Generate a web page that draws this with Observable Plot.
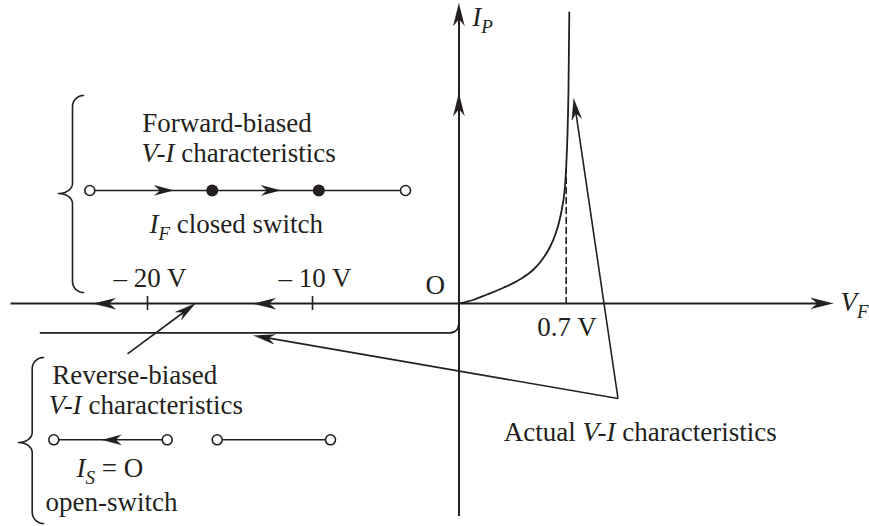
<!DOCTYPE html>
<html>
<head>
<meta charset="utf-8">
<script src="https://cdn.jsdelivr.net/npm/d3@7"></script>
<script src="https://cdn.jsdelivr.net/npm/@observablehq/plot@0.6"></script>
<style>
  html, body { margin: 0; padding: 0; background: #fff; }
  #chart { width: 869px; height: 526px; }
</style>
</head>
<body>
<div id="chart"></div>
<script>
// Diagram units: origin at the point O, 1 unit ≈ 1 screen pixel, v up.
const ink = "#231f20";

// Axes
const vfAxisSpan = [-448, 366];          // horizontal V_F axis (reverse to forward)
const ipAxisSpan = [-213, 292];          // vertical I_P axis
const reverseVoltTicks = [-311.5, -146.5];

// Forward characteristic (knee at 0.7 V)
const forwardCurve = [[0, 0], [14, 3.5], [28, 9], [45, 16], [61.5, 24.5], [74, 33.5], [84, 45],
  [91, 56.5], [96, 68], [100, 81], [103, 95], [105.5, 112], [107.2, 136], [108.5, 170], [109.5, 215], [110.3, 291]];
const kneeMarker = [[107.2, 0], [107.2, 134]];

// Actual reverse characteristic (small leakage below the axis)
const reverseTrace = [[-418.5, -29.3], [-9, -29.3], [-4.5, -28.1], [-1.2, -24.8], [0, -20.3]];

// Arrowheads on the axes: tip and direction
const axisArrows = [
  {tip: [374, 0], dir: [1, 0]},
  {tip: [0, 300], dir: [0, 1]},
  {tip: [0, 210], dir: [0, 1]},
  {tip: [-365.5, 0], dir: [-1, 0]},
  {tip: [-205.5, 0], dir: [-1, 0]}
];

// Pointer lines with arrowheads
const pointers = [
  {from: [159, -95], to: [114.8, 205]},
  {from: [159, -95], to: [-205.2, -32]},
  {from: [-331.5, -50.3], to: [-263.5, 0]}
];

// Switch analogies
const closedSwitchLine = [{from: [-369.2, 113], to: [-53.5, 113]}];
const closedSwitchArrows = [{tip: [-285.5, 113], dir: [1, 0]}, {tip: [-178.5, 113], dir: [1, 0]}];
const closedContacts = [[-246.8, 113], [-140.2, 113]];
const openSwitchLines = [{from: [-405.2, -136.3], to: [-291.8, -136.3]}, {from: [-241.8, -136.3], to: [-128.5, -136.3]}];
const openSwitchArrows = [{tip: [-356.8, -136.3], dir: [-1, 0]}];
const terminals = [[-369.2, 113], [-53.5, 113], [-405.2, -136.3], [-291.8, -136.3], [-241.8, -136.3], [-128.5, -136.3]];

// Curly braces grouping the annotations
const braces = [
  {xEnd: -375.5, xBody: -386.5, xTip: -400.5, top: 208, mid: 110, bottom: 11},
  {xEnd: -415.5, xBody: -426.8, xTip: -440.5, top: -54, mid: -139, bottom: -220}
];

// Labels (*italic*, _subscript_), anchored at start / baseline
const labels = [
  {text: "Forward-biased", u: -316.8, v: 171.3},
  {text: "*V-I* characteristics", u: -317.5, v: 141.3},
  {text: "*I*_F_ closed switch", u: -309.5, v: 71},
  {text: "– 20 V", u: -345.5, v: 16.5},
  {text: "– 10 V", u: -180.5, v: 16.5},
  {text: "O", u: -33.5, v: 10},
  {text: "0.7 V", u: 78.2, v: -32},
  {text: "*I*_P_", u: 13.2, v: 278},
  {text: "*V*_F_", u: 381.5, v: -7},
  {text: "Reverse-biased", u: -406.8, v: -80},
  {text: "*V-I* characteristics", u: -410.2, v: -110},
  {text: "*I*_S_ = O", u: -382.5, v: -173},
  {text: "open-switch", u: -413.5, v: -207},
  {text: "Actual *V-I* characteristics", u: 44.8, v: -137}
];

// ---- geometry helpers ----
function head(tip, dir, L, W, id) {
  const n = Math.hypot(dir[0], dir[1]);
  const dx = dir[0] / n, dy = dir[1] / n;
  const px = -dy, py = dx;
  const notch = L * 0.3;
  return [
    [tip[0], tip[1]],
    [tip[0] - dx * L + px * W, tip[1] - dy * L + py * W],
    [tip[0] - dx * (L - notch), tip[1] - dy * (L - notch)],
    [tip[0] - dx * L - px * W, tip[1] - dy * L - py * W]
  ].map(([x, y]) => ({id, x, y}));
}
function bracePoints(b, id) {
  const {xEnd, xBody, xTip, top, mid, bottom} = b;
  const r1 = xEnd - xBody, rx2 = xBody - xTip, ry2 = 10, N = 10;
  const pts = [];
  for (let i = 0; i <= N; i++) { const a = Math.PI / 2 + i / N * Math.PI / 2; pts.push([xEnd + r1 * Math.cos(a), top - r1 + r1 * Math.sin(a)]); }
  for (let i = 0; i <= N; i++) { const a = -i / N * Math.PI / 2; pts.push([xTip + rx2 * Math.cos(a), mid + ry2 + ry2 * Math.sin(a)]); }
  for (let i = 0; i <= N; i++) { const a = Math.PI / 2 - i / N * Math.PI / 2; pts.push([xTip + rx2 * Math.cos(a), mid - ry2 + ry2 * Math.sin(a)]); }
  for (let i = 0; i <= N; i++) { const a = Math.PI + i / N * Math.PI / 2; pts.push([xEnd + r1 * Math.cos(a), bottom + r1 + r1 * Math.sin(a)]); }
  return pts.map(([x, y]) => ({id, x, y}));
}

const heads = [
  ...axisArrows.flatMap((a, i) => head(a.tip, a.dir, 22, 5.5, "ax" + i)),
  ...pointers.flatMap((p, i) => head(p.to, [p.to[0] - p.from[0], p.to[1] - p.from[1]], 21, 5, "pt" + i)),
  ...closedSwitchArrows.flatMap((a, i) => head(a.tip, a.dir, 19, 5, "cs" + i)),
  ...openSwitchArrows.flatMap((a, i) => head(a.tip, a.dir, 19, 5, "os" + i))
];
const pointerShafts = pointers.map(p => {
  const dx = p.to[0] - p.from[0], dy = p.to[1] - p.from[1], n = Math.hypot(dx, dy);
  return {from: p.from, to: [p.to[0] - dx / n * 8, p.to[1] - dy / n * 8]};
});
const braceLines = braces.flatMap((b, i) => bracePoints(b, "br" + i));

const font = "'Liberation Serif', 'Times New Roman', serif";
const link = (data, extra = {}) => Plot.link(data, {
  x1: d => d.from[0], y1: d => d.from[1], x2: d => d.to[0], y2: d => d.to[1],
  stroke: ink, strokeWidth: 1.6, ...extra
});

const chart = Plot.plot({
  width: 869,
  height: 526,
  margin: 0,
  x: {type: "linear", domain: [-458.5, 410.5], axis: null},
  y: {type: "linear", domain: [-223, 303], axis: null},
  style: {background: "#fff", fontFamily: font},
  marks: [
    Plot.ruleY([0], {x1: vfAxisSpan[0], x2: vfAxisSpan[1], stroke: ink, strokeWidth: 2}),
    Plot.ruleX([0], {y1: ipAxisSpan[0], y2: ipAxisSpan[1], stroke: ink, strokeWidth: 2}),
    Plot.ruleX(reverseVoltTicks, {y1: -7, y2: 7, stroke: ink, strokeWidth: 1.6}),
    Plot.line(forwardCurve, {curve: "monotone-x", stroke: ink, strokeWidth: 1.8}),
    Plot.line(kneeMarker, {stroke: ink, strokeWidth: 1.6, strokeDasharray: "6,4"}),
    Plot.line(reverseTrace, {curve: "monotone-x", stroke: ink, strokeWidth: 1.8}),
    link(pointerShafts),
    link(closedSwitchLine),
    link(openSwitchLines),
    Plot.line(braceLines, {x: "x", y: "y", z: "id", stroke: ink, strokeWidth: 1.6}),
    Plot.line(heads, {x: "x", y: "y", z: "id", fill: ink, stroke: ink, strokeWidth: 0.5}),
    Plot.dot(closedContacts, {r: 6, fill: ink, stroke: "none"}),
    Plot.dot(terminals, {r: 5, fill: "#fff", stroke: ink, strokeWidth: 1.6}),
    Plot.text(labels, {x: "u", y: "v", text: "text", textAnchor: "start", lineAnchor: "bottom",
      fontSize: 27, fill: ink, fontFamily: font})
  ]
});

// Rich text: *italic*, _subscript_
const NS = "http://www.w3.org/2000/svg";
chart.querySelectorAll("text").forEach(el => {
  const src = el.textContent;
  if (!/[*_]/.test(src)) return;
  el.textContent = "";
  const parts = src.split(/(\*[^*]+\*|_[^_]+_)/).filter(s => s);
  let lowered = false;
  for (const p of parts) {
    const t = document.createElementNS(NS, "tspan");
    if (p[0] === "_") {
      t.textContent = p.slice(1, -1);
      t.setAttribute("font-style", "italic");
      t.setAttribute("font-size", "19");
      t.setAttribute("dy", "7");
      lowered = true;
    } else {
      if (p[0] === "*") { t.textContent = p.slice(1, -1); t.setAttribute("font-style", "italic"); }
      else t.textContent = p;
      if (lowered) { t.setAttribute("dy", "-7"); lowered = false; }
    }
    el.appendChild(t);
  }
});

document.getElementById("chart").appendChild(chart);
</script>
</body>
</html>
